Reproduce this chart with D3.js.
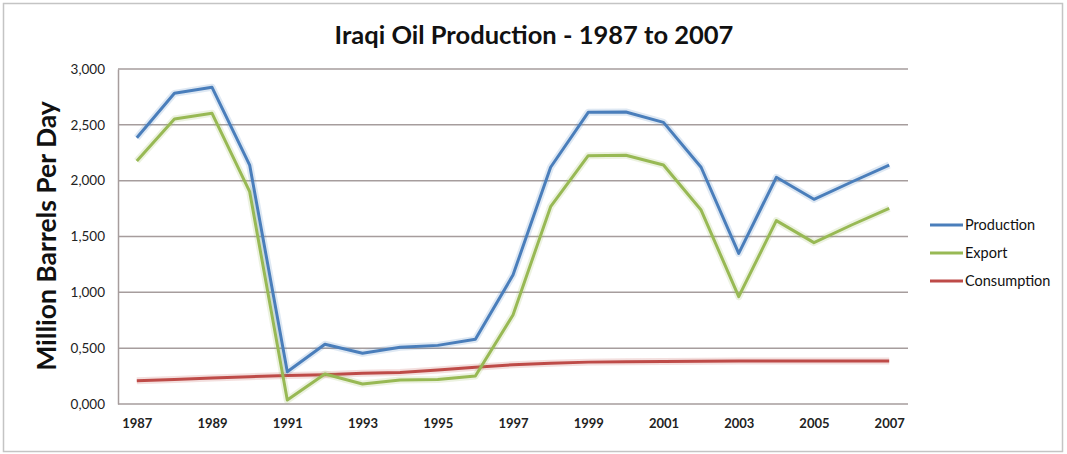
<!DOCTYPE html>
<html>
<head>
<meta charset="utf-8">
<script src="https://cdn.jsdelivr.net/npm/d3@7"></script>
<style>
  body { margin: 0; background: #fff; }
  text { font-family: Lato, "Open Sans", sans-serif; }
</style>
</head>
<body>
<div id="chart"></div>
<script>
// years on the category axis
var years = ["1987","1988","1989","1990","1991","1992","1993","1994","1995","1996","1997",
             "1998","1999","2000","2001","2002","2003","2004","2005","2006","2007"];
var xTickLabels = ["1987","1989","1991","1993","1995","1997","1999","2001","2003","2005","2007"];
var yTicks = [0, 0.5, 1, 1.5, 2, 2.5, 3];

// million barrels per day
var production  = [2.385, 2.782, 2.836, 2.140, 0.289, 0.535, 0.454, 0.508, 0.525, 0.579, 1.155,
                   2.120, 2.612, 2.615, 2.522, 2.120, 1.349, 2.030, 1.833, 1.988, 2.140];
var exportData  = [2.176, 2.552, 2.603, 1.901, 0.035, 0.269, 0.179, 0.215, 0.220, 0.251, 0.797,
                   1.767, 2.224, 2.228, 2.140, 1.737, 0.961, 1.642, 1.445, 1.603, 1.752];
var consumption = [0.209, 0.220, 0.232, 0.245, 0.255, 0.262, 0.275, 0.282, 0.305, 0.330, 0.352,
                   0.365, 0.375, 0.378, 0.380, 0.382, 0.384, 0.385, 0.385, 0.385, 0.386];

var seriesNames = ["Production", "Export", "Consumption"];
var seriesColors = ["#4a7ebb", "#98b954", "#be4b48"];
var seriesValues = [production, exportData, consumption];

function init(){
    var w = 1067, h = 454;
    var left = 118, right = 908, top = 69, bottom = 404;

    var svg = d3.select("#chart").append("svg")
        .attr("width", w)
        .attr("height", h);

    // outer chart border
    svg.append("rect")
        .attr("x", 3.5).attr("y", 3.5)
        .attr("width", 1059).attr("height", 448)
        .attr("fill", "#fff")
        .attr("stroke", "#c4c4c4")
        .attr("stroke-width", 1.5);

    var xScale = d3.scalePoint().domain(years).range([left, right]).padding(0.5);
    var yScale = d3.scaleLinear().domain([0, 3]).range([bottom, top]);

    var fmt = function(d){ return d3.format(".3f")(d).replace(".", ","); };

    // gridlines
    svg.append("g").selectAll("line")
        .data(yTicks.filter(function(d){ return d > 0; }))
        .enter().append("line")
        .attr("x1", left).attr("x2", right)
        .attr("y1", function(d){ return yScale(d); })
        .attr("y2", function(d){ return yScale(d); })
        .attr("stroke", "#a69d9d")
        .attr("stroke-width", 1.5);

    // y axis
    var yAxis = svg.append("g")
        .attr("transform", "translate(" + left + ",0)")
        .call(d3.axisLeft(yScale).tickValues(yTicks).tickFormat(fmt).tickSize(0).tickPadding(13));
    yAxis.select(".domain").attr("stroke", "#a69d9d").attr("stroke-width", 1.5);
    yAxis.selectAll("text").attr("font-size", 13.5).attr("fill", "#222")
        .style("font-family", "Lato, sans-serif");

    // x axis
    var xAxis = svg.append("g")
        .attr("transform", "translate(0," + bottom + ")")
        .call(d3.axisBottom(xScale).tickValues(xTickLabels).tickSize(0).tickPadding(15));
    xAxis.select(".domain").attr("stroke", "#a69d9d").attr("stroke-width", 1.5)
        .attr("d", "M" + left + ",0H" + right);
    xAxis.selectAll("text").attr("font-size", 13).attr("font-weight", "bold").attr("fill", "#222")
        .style("font-family", "Lato, sans-serif");

    var line = d3.line()
        .x(function(d, i){ return xScale(years[i]); })
        .y(function(d){ return yScale(d); });

    // draw in reverse so production sits on top
    for (var s = seriesValues.length - 1; s >= 0; s--) {
        svg.append("path")
            .datum(seriesValues[s])
            .attr("d", line)
            .attr("fill", "none")
            .attr("stroke", seriesColors[s])
            .attr("stroke-opacity", 0.18)
            .attr("stroke-width", 7)
            .attr("stroke-linejoin", "round");
        svg.append("path")
            .datum(seriesValues[s])
            .attr("d", line)
            .attr("fill", "none")
            .attr("stroke", seriesColors[s])
            .attr("stroke-width", 3)
            .attr("stroke-linejoin", "round");
    }

    // title
    svg.append("text")
        .attr("x", 534).attr("y", 44)
        .attr("text-anchor", "middle")
        .attr("font-size", 25.5)
        .attr("font-weight", "bold")
        .attr("fill", "#111")
        .text("Iraqi Oil Production - 1987 to 2007");

    // y axis title
    svg.append("text")
        .attr("transform", "translate(56," + 236 + ") rotate(-90)")
        .attr("text-anchor", "middle")
        .attr("font-size", 26.5)
        .attr("font-weight", "bold")
        .attr("fill", "#111")
        .text("Million Barrels Per Day");

    // legend
    var legend = svg.append("g").selectAll("g")
        .data(seriesNames)
        .enter().append("g")
        .attr("transform", function(d, i){ return "translate(930," + (225 + i * 28) + ")"; });
    legend.append("line")
        .attr("x1", 0).attr("x2", 33)
        .attr("stroke", function(d, i){ return seriesColors[i]; })
        .attr("stroke-width", 3);
    legend.append("text")
        .attr("x", 35).attr("y", 5)
        .attr("font-size", 14.5)
        .attr("fill", "#111")
        .text(function(d){ return d; });
}
window.onload = init;
</script>
</body>
</html>
